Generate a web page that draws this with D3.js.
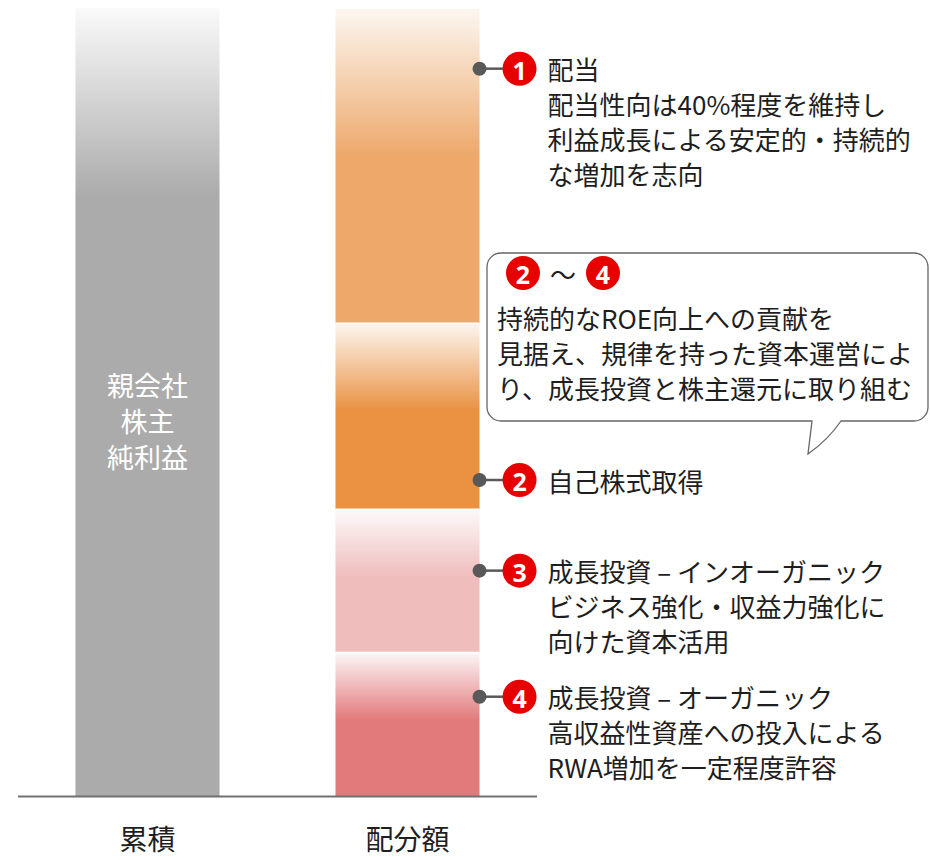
<!DOCTYPE html>
<html>
<head>
<meta charset="utf-8">
<script src="https://cdn.jsdelivr.net/npm/d3@7"></script>
<style>
  html, body { margin: 0; padding: 0; background: #fff; }
  svg { display: block; font-family: "Noto Sans CJK JP", "Noto Sans", sans-serif; }
</style>
</head>
<body>
<svg id="chart" width="930" height="860"></svg>
<script>
// ---------- data ----------
const categories = ["累積", "配分額"];
const cumulativeValues = [100];                       // 親会社株主純利益 (累積)
const cumulativeLabel = ["親会社", "株主", "純利益"];
const allocationKeys = ["配当", "自己株式取得", "成長投資(インオーガニック)", "成長投資(オーガニック)"];
const allocationValues = [40, 23.6, 18.2, 18.2];        // top → bottom
const badgeNumbers = ["1", "2", "3", "4"];
const calloutAnchor = [92.3, 40.1, 28.6, 12.6];         // in value units
const calloutLines = [
  ["配当", "配当性向は40%程度を維持し", "利益成長による安定的・持続的", "な増加を志向"],
  ["自己株式取得"],
  ["成長投資 – インオーガニック", "ビジネス強化・収益力強化に", "向けた資本活用"],
  ["成長投資 – オーガニック", "高収益性資産への投入による", "RWA増加を一定程度許容"]
];
const bubbleLines = ["持続的なROE向上への貢献を", "見据え、規律を持った資本運営によ", "り、成長投資と株主還元に取り組む"];

// ---------- styles ----------
const grayTop = "#fafafa", graySolid = "#ababab";
const segTop = ["#fdf7f1", "#fdf6ef", "#fdf9f9", "#fdf6f6"];
const segSolid = ["#eda86a", "#ea9142", "#f0bdbd", "#e27a7b"];
const badgeRed = "#e60000";
const textColor = "#1e1e1e";

const svg = d3.select("#chart");
const defs = svg.append("defs");

const x = d3.scaleBand().domain(categories).range([18, 537]).paddingInner(0.446).paddingOuter(0.221);
const y = d3.scaleLinear().domain([0, 100]).range([796, 8]);

// gradients
const gGray = defs.append("linearGradient").attr("id", "grad-gray")
  .attr("x1", 0).attr("y1", 0).attr("x2", 0).attr("y2", 1);
gGray.append("stop").attr("offset", "0%").attr("stop-color", grayTop);
gGray.append("stop").attr("offset", "24%").attr("stop-color", graySolid);
gGray.append("stop").attr("offset", "100%").attr("stop-color", graySolid);

allocationKeys.forEach((k, i) => {
  const g = defs.append("linearGradient").attr("id", "grad-seg" + i)
    .attr("x1", 0).attr("y1", 0).attr("x2", 0).attr("y2", 1);
  g.append("stop").attr("offset", "0%").attr("stop-color", segTop[i]);
  g.append("stop").attr("offset", "47%").attr("stop-color", segSolid[i]);
  g.append("stop").attr("offset", "100%").attr("stop-color", segSolid[i]);
});

// cumulative bar
svg.append("rect")
  .attr("x", x(categories[0])).attr("width", x.bandwidth())
  .attr("y", y(cumulativeValues[0])).attr("height", y(0) - y(cumulativeValues[0]))
  .attr("fill", "url(#grad-gray)");

svg.append("g").selectAll("text").data(cumulativeLabel).join("text")
  .attr("x", x(categories[0]) + x.bandwidth() / 2)
  .attr("y", (d, i) => 384 + i * 36)
  .attr("text-anchor", "middle").attr("dominant-baseline", "central")
  .attr("fill", "#fff").attr("font-size", 27).text(d => d);

// allocation stacked bar (first item on top)
const segs = allocationValues.map((v, i) => {
  const below = d3.sum(allocationValues.slice(i + 1));
  return { i, y0: below, y1: below + v };
});
svg.append("g").selectAll("rect").data(segs).join("rect")
  .attr("x", x(categories[1])).attr("width", x.bandwidth())
  .attr("y", d => y(d.y1)).attr("height", d => y(d.y0) - y(d.y1))
  .attr("fill", d => `url(#grad-seg${d.i})`)
  .attr("stroke", "#fff").attr("stroke-width", 1.5)
  .attr("stroke-dasharray", d => `${x.bandwidth()},${(y(d.y0) - y(d.y1)) * 2 + x.bandwidth()}`);

// baseline
svg.append("line").attr("x1", 18).attr("x2", 537).attr("y1", y(0) + 0.5).attr("y2", y(0) + 0.5)
  .attr("stroke", "#707070").attr("stroke-width", 2);

// x axis labels
const ax = svg.append("g").attr("transform", `translate(0,${y(0)})`)
  .call(d3.axisBottom(x).tickSize(0).tickPadding(0));
ax.select(".domain").remove();
ax.selectAll("text").attr("font-size", 28).attr("fill", textColor)
  .attr("font-family", "Noto Sans CJK JP").attr("dy", null).attr("y", 54);

// callouts
const barRight = x(categories[1]) + x.bandwidth();
const badgeX = barRight + 40;
function badge(g, cx, cy, label) {
  g.append("circle").attr("cx", cx).attr("cy", cy).attr("r", 17).attr("fill", badgeRed);
  g.append("text").attr("x", cx).attr("y", cy + 1).attr("text-anchor", "middle")
    .attr("dominant-baseline", "central").attr("fill", "#fff")
    .attr("font-size", 25).attr("font-weight", "bold").attr("font-family", "Noto Sans, sans-serif")
    .text(label);
}
const co = svg.append("g");
calloutAnchor.forEach((v, i) => {
  const cy = y(v);
  const g = co.append("g");
  g.append("line").attr("x1", barRight).attr("x2", badgeX - 16).attr("y1", cy).attr("y2", cy)
    .attr("stroke", "#595959").attr("stroke-width", 2.5);
  g.append("circle").attr("cx", barRight).attr("cy", cy).attr("r", 7).attr("fill", "#595959");
  badge(g, badgeX, cy, badgeNumbers[i]);
  g.selectAll("text.l").data(calloutLines[i]).join("text").attr("class", "l")
    .attr("x", badgeX + 28).attr("y", (d, j) => cy + j * 35)
    .attr("dominant-baseline", "central").attr("fill", textColor).attr("font-size", 26)
    .text(d => d);
});

// speech bubble
const bx0 = 487, by0 = 253, bx1 = 928, by1 = 421, r = 14;
const tailL = 812, tailR = 841, tipX = 808, tipY = 454;
const p = d3.path();
p.moveTo(bx0 + r, by0);
p.lineTo(bx1 - r, by0);
p.arcTo(bx1, by0, bx1, by0 + r, r);
p.lineTo(bx1, by1 - r);
p.arcTo(bx1, by1, bx1 - r, by1, r);
p.lineTo(tailR, by1);
p.quadraticCurveTo(828, 440, tipX, tipY);
p.lineTo(tailL, by1);
p.lineTo(bx0 + r, by1);
p.arcTo(bx0, by1, bx0, by1 - r, r);
p.lineTo(bx0, by0 + r);
p.arcTo(bx0, by0, bx0 + r, by0, r);
p.closePath();
const bub = svg.append("g");
bub.append("path").attr("d", p.toString()).attr("fill", "#fff")
  .attr("stroke", "#666").attr("stroke-width", 1.3);
badge(bub, 523, 273, badgeNumbers[1]);
bub.append("text").attr("x", 563).attr("y", 273).attr("text-anchor", "middle")
  .attr("dominant-baseline", "central").attr("fill", textColor).attr("font-size", 26).text("～");
badge(bub, 603, 273, badgeNumbers[3]);
bub.selectAll("text.b").data(bubbleLines).join("text").attr("class", "b")
  .attr("x", 497).attr("y", (d, j) => 317 + j * 35)
  .attr("dominant-baseline", "central").attr("fill", textColor).attr("font-size", 26)
  .text(d => d);
</script>
</body>
</html>
